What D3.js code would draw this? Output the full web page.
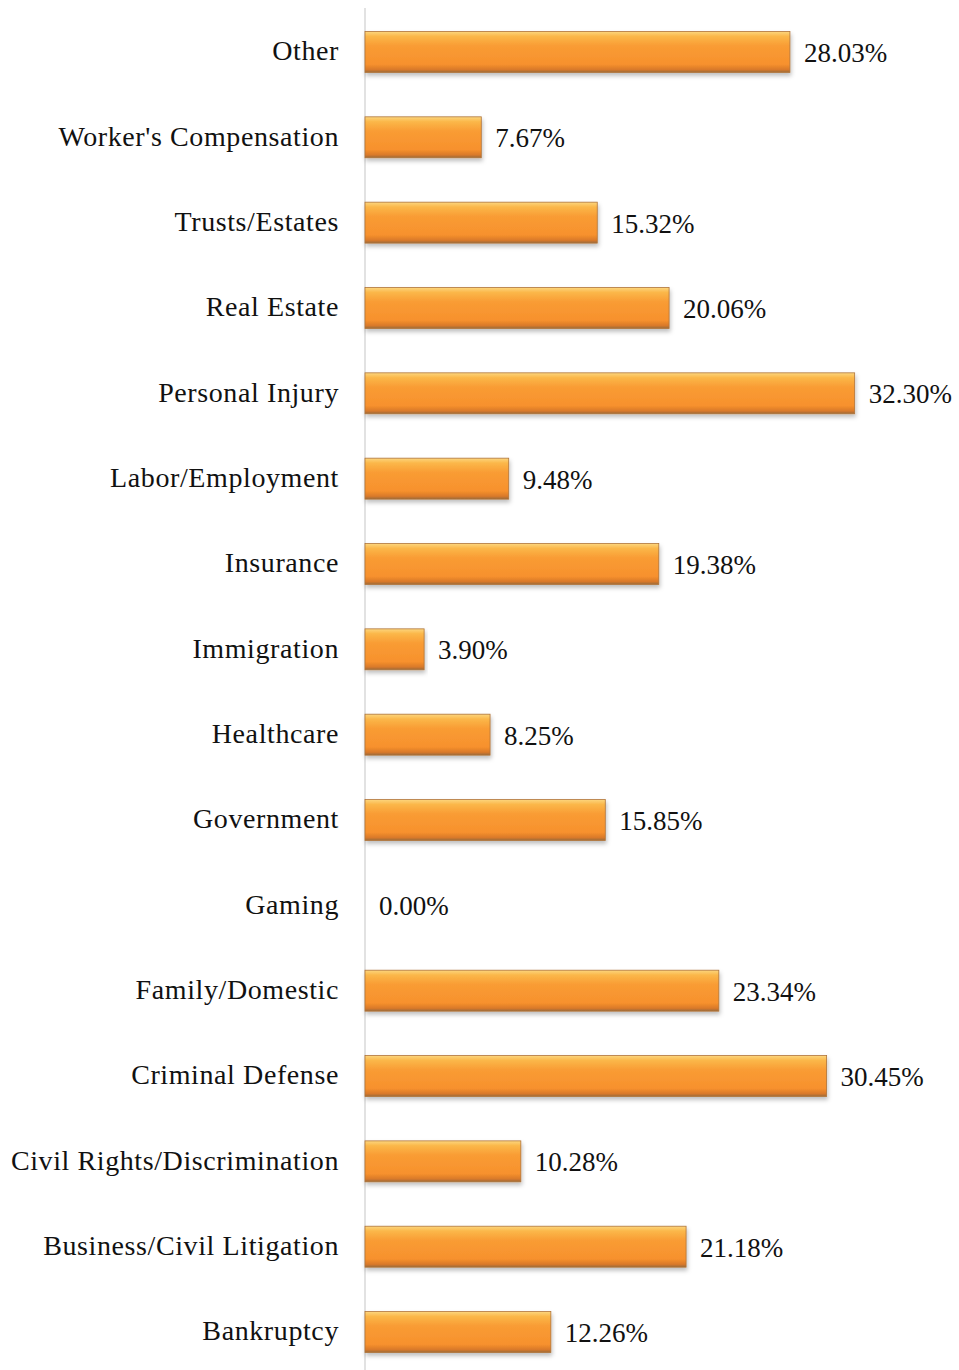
<!DOCTYPE html>
<html lang="en">
<head>
  <meta charset="UTF-8">
  <title>Practice Areas</title>
  <script src="https://d3js.org/d3.v7.min.js"></script>
  <style>
    body { margin: 0; background: #fff; }
    .label, .value { font-family: "Liberation Serif", "Times New Roman", serif; fill: #111; }
    .label { font-size: 28px; letter-spacing: 0.6px; }
    .value { font-size: 27px; }
  </style>
</head>
<body>
  <div id="chart"></div>
  <script>
    // ---- data ----
    const categories = ["Other", "Worker's Compensation", "Trusts/Estates", "Real Estate", "Personal Injury",
      "Labor/Employment", "Insurance", "Immigration", "Healthcare", "Government", "Gaming",
      "Family/Domestic", "Criminal Defense", "Civil Rights/Discrimination", "Business/Civil Litigation", "Bankruptcy"];
    const values = [28.03, 7.67, 15.32, 20.06, 32.30, 9.48, 19.38, 3.90, 8.25, 15.85, 0.00,
      23.34, 30.45, 10.28, 21.18, 12.26];

    const W = 959, H = 1370;
    const x0 = 365;

    const svg = d3.select("#chart").append("svg")
      .attr("width", W).attr("height", H);

    const defs = svg.append("defs");
    const grad = defs.append("linearGradient").attr("id", "barGrad")
      .attr("x1", 0).attr("y1", 0).attr("x2", 0).attr("y2", 1);
    grad.append("stop").attr("offset", "0%").attr("stop-color", "#fcd67e");
    grad.append("stop").attr("offset", "12%").attr("stop-color", "#fbb749");
    grad.append("stop").attr("offset", "35%").attr("stop-color", "#f99c34");
    grad.append("stop").attr("offset", "80%").attr("stop-color", "#f7912d");
    grad.append("stop").attr("offset", "93%").attr("stop-color", "#d9792a");
    grad.append("stop").attr("offset", "100%").attr("stop-color", "#9a6a3a");

    const shadow = defs.append("filter").attr("id", "shadow")
      .attr("x", "-5%").attr("y", "-20%").attr("width", "110%").attr("height", "160%");
    shadow.append("feDropShadow").attr("dx", 1).attr("dy", 3).attr("stdDeviation", 2)
      .attr("flood-color", "#000").attr("flood-opacity", 0.25);

    const x = d3.scaleLinear().domain([0, 35]).range([x0, x0 + 35 * 15.16]);
    const y = d3.scaleBand().domain(categories).range([9.3, 1374.7])
      .paddingInner(0.52).paddingOuter(0.26);

    // axis line
    svg.append("line")
      .attr("x1", x0).attr("x2", x0)
      .attr("y1", 8).attr("y2", H)
      .attr("stroke", "#d9d9d9").attr("stroke-width", 1.5);

    const rows = svg.selectAll(".row")
      .data(categories.map((c, i) => ({ c, v: values[i] })))
      .enter().append("g").attr("class", "row");

    rows.filter(d => d.v > 0).append("rect")
      .attr("x", x(0))
      .attr("y", d => y(d.c))
      .attr("width", d => x(d.v) - x(0))
      .attr("height", y.bandwidth())
      .attr("fill", "url(#barGrad)")
      .attr("stroke", "#b0743a")
      .attr("stroke-width", 0.8)
      .attr("filter", "url(#shadow)");

    rows.append("text").attr("class", "label")
      .attr("x", 339)
      .attr("y", d => y(d.c) + y.bandwidth() / 2 - 1)
      .attr("dy", "0.33em")
      .attr("text-anchor", "end")
      .text(d => d.c);

    rows.append("text").attr("class", "value")
      .attr("x", d => x(d.v) + 14)
      .attr("y", d => y(d.c) + y.bandwidth() / 2 + 1)
      .attr("dy", "0.33em")
      .text(d => d.v.toFixed(2) + "%");
  </script>
</body>
</html>
